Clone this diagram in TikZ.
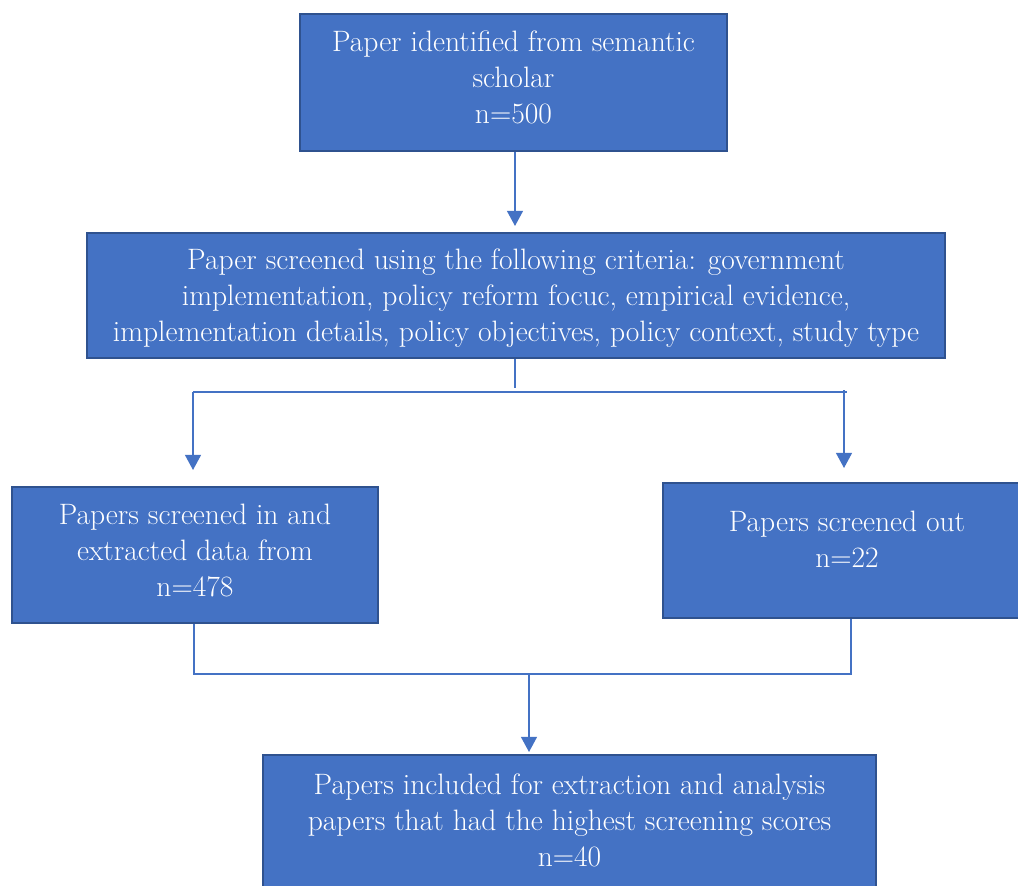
\documentclass[tikz,border=0pt]{standalone}
\usetikzlibrary{arrows.meta}
\definecolor{boxblue}{HTML}{4472C4}
\definecolor{boxedge}{HTML}{2F528F}
\tikzset{
  flowbox/.style={draw=boxedge, line width=0.05cm, fill=boxblue, text=white,
    align=center, inner sep=0pt, font=\fontsize{21}{25.6}\selectfont},
  link/.style={draw=boxblue, line width=0.04cm},
  linkarrow/.style={link, -{Triangle[width=0.4cm, length=0.38cm]}}
}
\begin{document}
\begin{tikzpicture}[x=0.025cm, y=-0.025cm]
  \clip (0,0) rectangle (1018,886);
  \fill[white] (0,0) rectangle (1018,886);
  % boxes
  \node[flowbox, minimum width=10.675cm, minimum height=3.425cm, text depth=0.25cm] (ident) at (513.5,82.5)
    {Paper identified from semantic\\scholar\\n=500};
  \node[flowbox, minimum width=21.45cm, minimum height=3.125cm, text depth=0cm] (screen) at (516,295.5)
    {Paper screened using the following criteria: government\\implementation, policy reform focuc, empirical evidence,\\implementation details, policy objectives, policy context, study type};
  \node[flowbox, minimum width=9.15cm, minimum height=3.4cm, text depth=0.25cm] (incl) at (195,555)
    {Papers screened in and\\extracted data from\\n=478};
  \node[flowbox, minimum width=9.2cm, minimum height=3.375cm, text depth=0.55cm] (excl) at (847,550.5)
    {Papers screened out\\n=22};
  \node[flowbox, minimum width=15.325cm, minimum height=3.5cm, text depth=0.25cm] (final) at (569.5,825)
    {Papers included for extraction and analysis\\papers that had the highest screening scores\\n=40};
  % split after screening
  \coordinate (splitend) at (515,388);
  \coordinate (splitl) at (193,392);
  \coordinate (splitr) at (847,392);
  \coordinate (inclin) at (193,470);
  \coordinate (exclin) at (844,468);
  % merge before final
  \coordinate (mergel) at (194,674);
  \coordinate (merger) at (851,674);
  \coordinate (mergec) at (529,674);
  % connectors
  \draw[linkarrow] (ident.south -| splitend) -- ([yshift=0.15cm]screen.north -| splitend);
  \draw[link] (screen.south -| splitend) -- (splitend);
  \draw[link] (splitl) -- (splitr);
  \draw[linkarrow] (splitl) -- (inclin);
  \draw[linkarrow] ([yshift=0.05cm]splitr -| exclin) -- (exclin);
  \draw[link] (incl.south -| mergel) -- (mergel) -- (merger) -- (excl.south -| merger);
  \draw[linkarrow] (mergec) -- ([yshift=0.05cm]final.north -| mergec);
\end{tikzpicture}
\end{document}
